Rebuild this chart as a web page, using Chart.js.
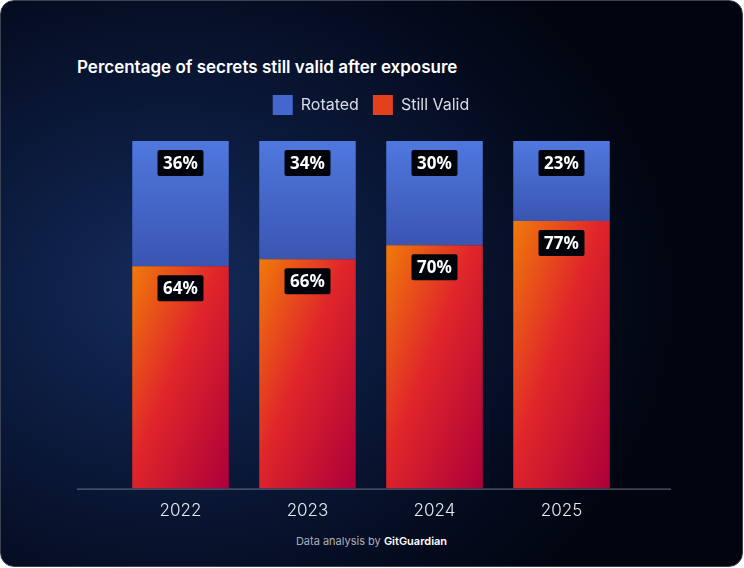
<!DOCTYPE html>
<html>
<head>
<meta charset="utf-8">
<script src="https://cdn.jsdelivr.net/npm/chart.js@4"></script>
<style>
  html, body { margin: 0; padding: 0; background: #ffffff; }
  .card {
    position: absolute; left: 0; top: 0; width: 741px; height: 565px;
    border: 1px solid #3b4252; border-radius: 14px; overflow: hidden;
    background: radial-gradient(ellipse 520px 420px at 170px 290px, #142b5c 0%, #0a1838 45%, #040a1c 80%, #02050f 100%);
    font-family: Inter, "Noto Sans", sans-serif;
  }
  .title { position: absolute; left: 76px; top: 56px; color: #fff; font-size: 17px; font-weight: 600; }
  .foot { position: absolute; left: 0; width: 741px; top: 533px; text-align: center; color: #a9afbd; font-size: 11px; }
  .foot b { color: #fff; font-weight: 600; }
  canvas { position: absolute; left: 0; top: 0; }
</style>
</head>
<body>
<div class="card">
  <div class="title">Percentage of secrets still valid after exposure</div>
  <div class="foot">Data analysis by <b>GitGuardian</b></div>
  <canvas id="chart" width="744" height="568"></canvas>
</div>
<script>
const years = ['2022', '2023', '2024', '2025'];
const stillValid = [64, 66, 70, 77];
const rotated = [36, 34, 30, 23];

function barBox(chart, i, top) {
  const xs = chart.scales.x, ys = chart.scales.y;
  const cx = xs.getPixelForValue(i);
  return { l: cx - 48, r: cx + 48, t: ys.getPixelForValue(top), b: ys.getPixelForValue(0) };
}

// diagonal gradient stretched to the bar box (corner to corner)
function redFill(ctx) {
  const chart = ctx.chart;
  if (!chart.chartArea || ctx.type !== 'data') return '#e0262a';
  const b = barBox(chart, ctx.dataIndex, stillValid[ctx.dataIndex]);
  const w = b.r - b.l, h = b.b - b.t;
  const k = 2 * w * h / (w * w + h * h);
  const g = chart.ctx.createLinearGradient(b.l, b.t, b.l + h * k, b.t + w * k);
  g.addColorStop(0, '#f07a0a');
  g.addColorStop(0.45, '#e0262a');
  g.addColorStop(1, '#ac003a');
  return g;
}

function blueFill(ctx) {
  const chart = ctx.chart;
  if (!chart.chartArea || ctx.type !== 'data') return '#4a6fd6';
  const i = ctx.dataIndex;
  const ys = chart.scales.y;
  const g = chart.ctx.createLinearGradient(0, ys.getPixelForValue(100), 0, ys.getPixelForValue(stillValid[i]));
  g.addColorStop(0, '#4f78de');
  g.addColorStop(1, '#3a55b2');
  return g;
}

const legendSpace = {
  id: 'legendSpace',
  beforeInit(chart) {
    const fit = chart.legend.fit;
    chart.legend.fit = function () { fit.bind(chart.legend)(); this.height += 16; };
  }
};

const extras = {
  id: 'extras',
  afterDatasetsDraw(chart) {
    const c = chart.ctx;
    const y0 = chart.scales.y.getPixelForValue(0);
    c.save();
    c.strokeStyle = '#6b7385';
    c.lineWidth = 1;
    c.beginPath(); c.moveTo(76, y0 + 0.5); c.lineTo(670, y0 + 0.5); c.stroke();
    c.font = 'bold 17px "Noto Sans", Inter, sans-serif';
    c.textAlign = 'center'; c.textBaseline = 'middle';
    years.forEach((_, i) => {
      const xs = chart.scales.x, ys = chart.scales.y;
      const cx = xs.getPixelForValue(i);
      [[100, rotated[i]], [stillValid[i], stillValid[i]]].forEach(([top, v]) => {
        const ty = ys.getPixelForValue(top) + 22;
        const w = 46, h = 26;
        c.fillStyle = '#02040c';
        c.beginPath(); c.roundRect(cx - w / 2, ty - h / 2, w, h, 2); c.fill();
        c.fillStyle = '#ffffff';
        c.fillText(v + '%', cx, ty + 1);
      });
    });
    c.restore();
  }
};

const legendColors = { 'Rotated': '#4566cc', 'Still Valid': '#e4401e' };

new Chart(document.getElementById('chart'), {
  type: 'bar',
  data: {
    labels: years,
    datasets: [
      { label: 'Still Valid', data: stillValid, backgroundColor: redFill, borderWidth: 0 },
      { label: 'Rotated', data: rotated, backgroundColor: blueFill, borderWidth: 0 }
    ]
  },
  options: {
    responsive: false,
    animation: false,
    layout: { padding: { top: 80, left: 116, right: 120, bottom: 44 } },
    datasets: { bar: { categoryPercentage: 1, barPercentage: 0.76 } },
    plugins: {
      tooltip: { enabled: false },
      legend: {
        reverse: true,
        labels: {
          color: '#d8dce6', boxWidth: 20, boxHeight: 20, padding: 14,
          font: { family: 'Inter, "Noto Sans", sans-serif', size: 16 },
          generateLabels(chart) {
            const items = Chart.defaults.plugins.legend.labels.generateLabels(chart);
            items.forEach(it => { it.fillStyle = legendColors[it.text]; it.lineWidth = 0; });
            return items;
          }
        }
      }
    },
    scales: {
      x: {
        stacked: true,
        grid: { display: false }, border: { display: false },
        ticks: { color: '#e6e9f0', padding: 4, font: { family: 'Inter, "Noto Sans", sans-serif', size: 17, weight: 300 } }
      },
      y: { stacked: true, min: 0, max: 100, display: false }
    }
  },
  plugins: [legendSpace, extras]
});
</script>
</body>
</html>
